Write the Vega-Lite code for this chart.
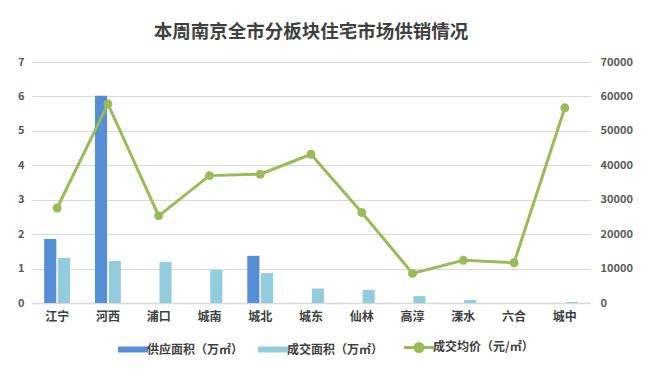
{
  "$schema": "https://vega.github.io/schema/vega-lite/v6.json",
  "width": 558,
  "height": 241,
  "autosize": "none",
  "padding": {"left": 32, "top": 62, "right": 64, "bottom": 71},
  "background": "#ffffff",
  "title": {
    "text": "本周南京全市分板块住宅市场供销情况",
    "font": "Noto Sans CJK SC",
    "fontSize": 18.5,
    "fontWeight": "bold",
    "color": "#404040",
    "anchor": "middle",
    "offset": 15
  },
  "config": {
    "view": {"stroke": null},
    "font": "Noto Sans CJK SC",
    "axis": {
      "labelFont": "Noto Sans CJK SC",
      "labelFontWeight": "bold",
      "labelColor": "#595959",
      "labelFontSize": 11,
      "ticks": false,
      "title": null,
      "gridColor": "#D9D9D9",
      "gridWidth": 1,
      "labelOverlap": false
    }
  },
  "datasets": {
    "bars": [
      {"district": "江宁", "series": "供应面积（万㎡）", "area": 1.86},
      {"district": "江宁", "series": "成交面积（万㎡）", "area": 1.31},
      {"district": "河西", "series": "供应面积（万㎡）", "area": 6.02},
      {"district": "河西", "series": "成交面积（万㎡）", "area": 1.22},
      {"district": "浦口", "series": "供应面积（万㎡）", "area": 0},
      {"district": "浦口", "series": "成交面积（万㎡）", "area": 1.19},
      {"district": "城南", "series": "供应面积（万㎡）", "area": 0},
      {"district": "城南", "series": "成交面积（万㎡）", "area": 0.96},
      {"district": "城北", "series": "供应面积（万㎡）", "area": 1.37},
      {"district": "城北", "series": "成交面积（万㎡）", "area": 0.87},
      {"district": "城东", "series": "供应面积（万㎡）", "area": 0},
      {"district": "城东", "series": "成交面积（万㎡）", "area": 0.42},
      {"district": "仙林", "series": "供应面积（万㎡）", "area": 0},
      {"district": "仙林", "series": "成交面积（万㎡）", "area": 0.38},
      {"district": "高淳", "series": "供应面积（万㎡）", "area": 0},
      {"district": "高淳", "series": "成交面积（万㎡）", "area": 0.2},
      {"district": "溧水", "series": "供应面积（万㎡）", "area": 0},
      {"district": "溧水", "series": "成交面积（万㎡）", "area": 0.09},
      {"district": "六合", "series": "供应面积（万㎡）", "area": 0},
      {"district": "六合", "series": "成交面积（万㎡）", "area": 0},
      {"district": "城中", "series": "供应面积（万㎡）", "area": 0},
      {"district": "城中", "series": "成交面积（万㎡）", "area": 0.03}
    ],
    "price": [
      {"district": "江宁", "price": 27600},
      {"district": "河西", "price": 57800},
      {"district": "浦口", "price": 25300},
      {"district": "城南", "price": 37000},
      {"district": "城北", "price": 37400},
      {"district": "城东", "price": 43200},
      {"district": "仙林", "price": 26300},
      {"district": "高淳", "price": 8600},
      {"district": "溧水", "price": 12400},
      {"district": "六合", "price": 11700},
      {"district": "城中", "price": 56700}
    ]
  },
  "encoding": {
    "x": {
      "field": "district",
      "type": "nominal",
      "sort": ["江宁", "河西", "浦口", "城南", "城北", "城东", "仙林", "高淳", "溧水", "六合", "城中"],
      "scale": {"paddingInner": 0.49, "paddingOuter": 0.24},
      "axis": {
        "labelAngle": 0,
        "labelFontSize": 12,
        "labelColor": "#404040",
        "labelPadding": 8,
        "domainColor": "#D9D9D9",
        "domainWidth": 1.5,
        "grid": false
      }
    }
  },
  "layer": [
    {
      "data": {"name": "bars"},
      "mark": {"type": "bar"},
      "encoding": {
        "xOffset": {
          "field": "series",
          "type": "nominal",
          "sort": ["供应面积（万㎡）", "成交面积（万㎡）"],
          "scale": {"paddingInner": 0.12}
        },
        "y": {
          "field": "area",
          "type": "quantitative",
          "scale": {"domain": [0, 7], "nice": false},
          "axis": {
            "orient": "left",
            "values": [0, 1, 2, 3, 4, 5, 6, 7],
            "domain": false,
            "labelPadding": 8,
            "grid": true
          }
        },
        "color": {
          "field": "series",
          "type": "nominal",
          "scale": {
            "domain": ["供应面积（万㎡）", "成交面积（万㎡）", "成交均价（元/㎡）"],
            "range": ["#558ED5", "#93CDDD", "#9BBB59"]
          },
          "legend": {
            "title": null,
            "orient": "none",
            "direction": "horizontal",
            "legendX": 95,
            "legendY": 279,
            "columnPadding": 14,
            "labelOffset": 8,
            "labelFont": "Noto Sans CJK SC",
            "labelFontSize": 12,
            "labelFontWeight": "bold",
            "labelColor": "#404040",
            "symbolSize": 900,
            "labelLimit": 200,
            "encode": {
              "symbols": {
                "update": {
                  "shape": {"signal": "datum.value === '成交均价（元/㎡）' ? 'M-1,0H1M0.27,0A0.27,0.27 0 1,1 -0.27,0A0.27,0.27 0 1,1 0.27,0Z' : 'M-1,-0.2H1V0.2H-1Z'"},
                  "strokeWidth": {"signal": "datum.value === '成交均价（元/㎡）' ? 3 : 0"},
                  "fill": {"scale": "color", "field": "value"},
                  "stroke": {"scale": "color", "field": "value"},
                  "fillOpacity": {"value": 1},
                  "opacity": {"value": 1}
                }
              }
            }
          }
        }
      }
    },
    {
      "data": {"name": "price"},
      "mark": {"type": "line", "strokeWidth": 3, "point": {"filled": true, "size": 80}},
      "encoding": {
        "y": {
          "field": "price",
          "type": "quantitative",
          "scale": {"domain": [0, 70000], "nice": false},
          "axis": {
            "orient": "right",
            "values": [0, 10000, 20000, 30000, 40000, 50000, 60000, 70000],
            "format": "d",
            "domain": false,
            "grid": false,
            "labelPadding": 10
          }
        },
        "color": {"datum": "成交均价（元/㎡）", "type": "nominal"}
      }
    }
  ],
  "resolve": {"scale": {"y": "independent"}}
}
